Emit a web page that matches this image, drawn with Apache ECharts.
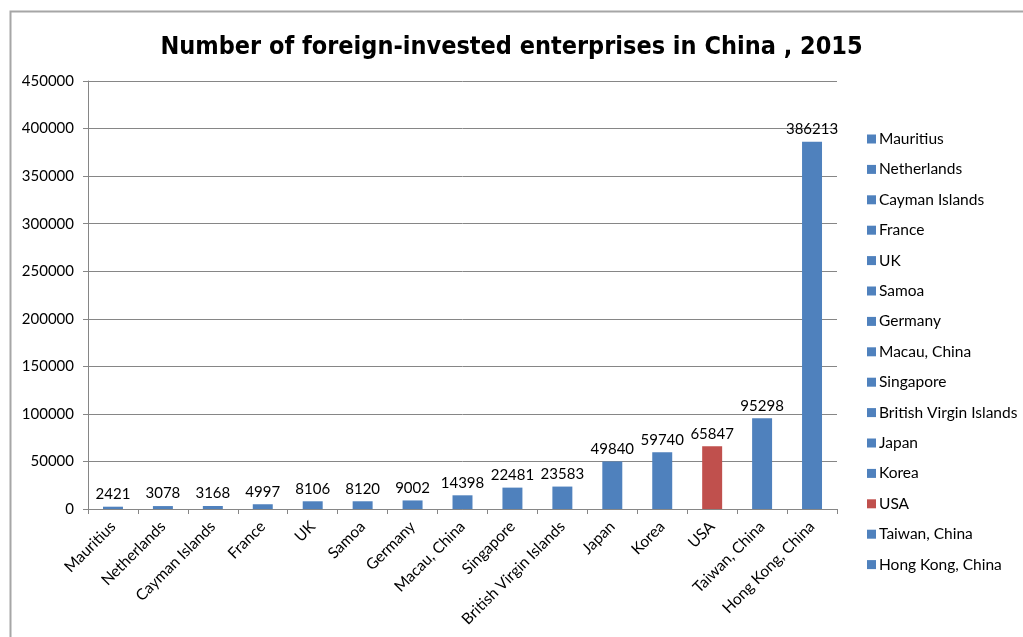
<!DOCTYPE html>
<html>
<head>
<meta charset="utf-8">
<title>Number of foreign-invested enterprises in China, 2015</title>
<script src="https://cdn.jsdelivr.net/npm/echarts@6/dist/echarts.min.js"></script>
<style>
  html, body { margin: 0; padding: 0; background: #ffffff; }
  #chart { width: 1023px; height: 637px; }
</style>
</head>
<body>
<div id="chart"></div>
<script>
// Countries / regions of origin, sorted by number of enterprises
const categories = [
  'Mauritius', 'Netherlands', 'Cayman Islands', 'France', 'UK', 'Samoa',
  'Germany', 'Macau, China', 'Singapore', 'British Virgin Islands',
  'Japan', 'Korea', 'USA', 'Taiwan, China', 'Hong Kong, China'
];
// Number of foreign-invested enterprises, 2015
const enterprises = [
  2421, 3078, 3168, 4997, 8106, 8120, 9002, 14398, 22481, 23583,
  49840, 59740, 65847, 95298, 386213
];
// Y axis tick range
const yTicks = { min: 0, max: 450000, interval: 50000 };
const highlighted = 'USA';

const BLUE = '#4F81BD';
const RED = '#C0504D';
const FONT = 'Lato, "Open Sans", sans-serif';
const GRID_COLOR = '#868686';

// One series per category so every country gets its own legend entry;
// all share one stack so each bar sits centred in its own slot.
const series = categories.map((name, i) => ({
  name: name,
  type: 'bar',
  stack: 'all',
  barWidth: '40%',
  itemStyle: { color: name === highlighted ? RED : BLUE },
  label: {
    show: true,
    position: 'top',
    distance: 5,
    color: '#000',
    fontFamily: FONT,
    fontSize: 15,
    formatter: p => String(p.value)
  },
  data: categories.map((c, j) => (j === i ? enterprises[i] : null))
}));

const chart = echarts.init(document.getElementById('chart'), null, { renderer: 'canvas' });
chart.setOption({
  animation: false,
  backgroundColor: '#ffffff',
  title: {
    text: 'Number of foreign-invested enterprises in China , 2015',
    left: 'center',
    top: 30,
    textStyle: {
      fontFamily: '"DejaVu Sans Condensed", sans-serif',
      fontWeight: 'bold',
      fontSize: 25,
      color: '#000'
    }
  },
  legend: {
    orient: 'vertical',
    left: 862,
    top: 125,
    icon: 'rect',
    itemWidth: 9,
    itemHeight: 9,
    itemGap: 12.4,
    selectedMode: false,
    textStyle: {
      fontFamily: FONT,
      fontSize: 15.5,
      lineHeight: 18,
      color: '#000',
      padding: [0, 0, 0, -2]
    },
    data: categories
  },
  grid: {
    left: 88,
    right: 186,
    top: 81,
    bottom: 128,
    containLabel: false
  },
  xAxis: {
    type: 'category',
    data: categories,
    axisLine: { lineStyle: { color: GRID_COLOR, width: 1 } },
    axisTick: { show: true, length: 5, alignWithLabel: false, lineStyle: { color: GRID_COLOR } },
    axisLabel: {
      interval: 0,
      rotate: 45,
      margin: 15,
      color: '#000',
      fontFamily: FONT,
      fontSize: 15.5
    }
  },
  yAxis: {
    type: 'value',
    min: yTicks.min,
    max: yTicks.max,
    interval: yTicks.interval,
    axisLine: { show: true, lineStyle: { color: GRID_COLOR, width: 1 } },
    axisTick: { show: true, length: 5, lineStyle: { color: GRID_COLOR } },
    splitLine: { show: true, lineStyle: { color: GRID_COLOR, width: 1 } },
    axisLabel: {
      margin: 14,
      color: '#000',
      fontFamily: FONT,
      fontSize: 15,
      formatter: v => String(v)
    }
  },
  graphic: [{
    // Outer frame of the chart area
    type: 'rect',
    left: 8,
    top: 9,
    shape: { x: 0, y: 0, width: 1040, height: 660 },
    style: { fill: 'none', stroke: '#a6a6a6', lineWidth: 2 },
    silent: true,
    z: 100
  }],
  series: series
});
</script>
</body>
</html>
